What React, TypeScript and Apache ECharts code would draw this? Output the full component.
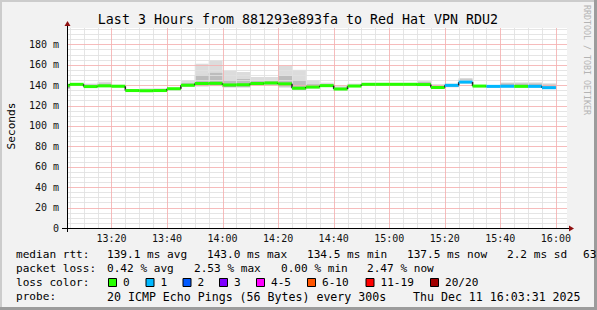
import React, { useEffect, useRef } from 'react';
import * as echarts from 'echarts';

const FONT = '"DejaVu Sans Mono", monospace';

// 5-minute slots (start times); the first one is the partial slot at the left edge
const slotStarts = ['13:04', '13:05', '13:10', '13:15', '13:20', '13:25', '13:30', '13:35', '13:40', '13:45', '13:50', '13:55',
  '14:00', '14:05', '14:10', '14:15', '14:20', '14:25', '14:30', '14:35', '14:40', '14:45', '14:50', '14:55',
  '15:00', '15:05', '15:10', '15:15', '15:20', '15:25', '15:30', '15:35', '15:40', '15:45', '15:50', '15:55'];
const slotEnd = '16:00';
const axisStart = '13:04';
const axisEnd = '16:04';

// median round trip (ms)
const medianRtt = [139.8, 140.8, 138.6, 139.3, 138.9, 134.7, 134.5, 134.7, 136.5, 139.9, 141.6, 141.8,
  140.2, 140.4, 141.6, 142.1, 141.3, 137.0, 138.1, 139.5, 136.2, 139.1, 140.8, 140.8,
  140.8, 140.8, 140.6, 137.7, 139.8, 143.0, 139.1, 138.8, 138.8, 138.8, 138.8, 137.5];
// lost pings (of 20)
const lossCount = [0, 0, 0, 0, 0, 0, 0, 0, 0, 0, 0, 0,
  0, 0, 0, 0, 0, 0, 0, 0, 0, 0, 0, 0,
  0, 0, 0, 0, 1, 1, 0, 1, 1, 0, 1, 1];
// smoke: lowest ping, lower quartile, upper quartile, highest ping (ms)
const smokeLow = [136.0, 139.5, 137.5, 138.0, 137.8, 134.0, 134.0, 134.0, 135.8, 138.5, 138.5, 139.0,
  137.5, 137.5, 139.5, 140.0, 137.5, 135.2, 136.8, 138.3, 135.2, 138.2, 140.0, 140.0,
  140.0, 140.0, 139.0, 136.5, 137.8, 141.5, 137.8, 137.2, 137.5, 137.5, 137.5, 136.2];
const smokeQ1 = [137.0, 140.0, 138.0, 138.6, 138.2, 134.2, 134.2, 134.2, 136.0, 139.0, 139.5, 140.0,
  138.5, 138.8, 140.5, 141.0, 139.0, 136.0, 137.3, 138.8, 135.6, 138.6, 140.3, 140.3,
  140.3, 140.3, 139.8, 137.0, 138.6, 142.2, 138.3, 138.0, 138.2, 138.2, 138.2, 136.8];
const smokeQ3 = [140.8, 141.2, 140.5, 141.5, 139.8, 135.2, 135.5, 135.8, 136.8, 142.0, 150.0, 152.0,
  145.0, 146.0, 144.0, 144.0, 149.0, 145.0, 141.0, 141.0, 137.5, 140.2, 141.6, 141.6,
  141.6, 141.6, 143.0, 139.5, 141.0, 145.5, 139.6, 139.6, 141.5, 141.5, 141.5, 140.5];
const smokeHigh = [141.0, 141.5, 141.5, 143.4, 140.5, 135.8, 136.8, 136.9, 137.2, 145.0, 161.0, 164.3,
  154.2, 152.9, 148.0, 148.0, 159.0, 155.0, 145.0, 142.4, 139.0, 141.5, 142.3, 142.3,
  142.3, 142.3, 144.2, 141.0, 141.5, 147.0, 140.0, 140.0, 142.7, 142.7, 142.7, 141.8];

const xTickLabels = ['13:20', '13:40', '14:00', '14:20', '14:40', '15:00', '15:20', '15:40', '16:00'];
const yTicks = [0, 20, 40, 60, 80, 100, 120, 140, 160, 180];
const yMax = 196;

const lossLabels = ['0', '1', '2', '3', '4-5', '6-10', '11-19', '20/20'];
const lossUpper = [0, 1, 2, 3, 5, 10, 19, 20];
const lossColors = ['#26ff00', '#00b8ff', '#0059ff', '#7e00ff', '#ff00ff', '#ff5500', '#ff0000', '#a10000'];

const titleText = 'Last 3 Hours from 881293e893fa to Red Hat VPN RDU2';
const rttStats = ['139.1 ms avg', '143.0 ms max', '134.5 ms min', '137.5 ms now', '2.2 ms sd', '63'];
const lossStats = ['0.42 % avg', '2.53 % max', '0.00 % min', '2.47 % now'];
const probeText = '20 ICMP Echo Pings (56 Bytes) every 300s';
const stampText = 'Thu Dec 11 16:03:31 2025';

const toMin = (s: string) => {
  const [h, m] = s.split(':').map(Number);
  return h * 60 + m;
};
const fmtMin = (v: number) => `${Math.floor(v / 60)}:${String(Math.round(v) % 60).padStart(2, '0')}`;
const X_MIN = toMin(axisStart);
const X_MAX = toMin(axisEnd);
const xTickMins = xTickLabels.map(toMin);

const lossColor = (n: number) => {
  for (let i = 0; i < lossUpper.length; i++) if (n <= lossUpper[i]) return lossColors[i];
  return lossColors[lossColors.length - 1];
};

const slotData = slotStarts.map((s, i) => [
  toMin(s),
  i + 1 < slotStarts.length ? toMin(slotStarts[i + 1]) : toMin(slotEnd),
  smokeLow[i], smokeQ1[i], medianRtt[i], smokeQ3[i], smokeHigh[i], lossCount[i],
  i > 0 ? medianRtt[i - 1] : medianRtt[i],
]);

const MAJOR = '#f5b0b0';
const MINOR = '#e0e0e0';

function buildOption(): any {
  const txt = (text: string, x: number, y: number, extra: any = {}) => ({
    type: 'text', x, y, z: 10,
    style: { text, fill: '#000', fontFamily: FONT, fontSize: 11.1, verticalAlign: 'middle', align: 'left', ...extra },
  });
  const rttX = [107, 207, 307, 407, 507, 583];
  const lossX = [107, 194, 281, 367];
  const boxX = [108, 145.5, 182.5, 219, 256, 307, 365.5, 430];
  const graphics: any[] = [
    // frame shading
    { type: 'rect', shape: { x: 0, y: 0, width: 597, height: 2 }, style: { fill: '#cccccc' }, z: 1 },
    { type: 'rect', shape: { x: 0, y: 0, width: 2, height: 310 }, style: { fill: '#cccccc' }, z: 1 },
    { type: 'rect', shape: { x: 594, y: 0, width: 3, height: 310 }, style: { fill: '#9c9c9c' }, z: 1 },
    { type: 'rect', shape: { x: 0, y: 307, width: 597, height: 3 }, style: { fill: '#9c9c9c' }, z: 1 },
    // axes lines & arrows
    { type: 'line', shape: { x1: 62, y1: 228.5, x2: 570, y2: 228.5 }, style: { stroke: '#000', lineWidth: 1 }, z: 5 },
    { type: 'line', shape: { x1: 67.5, y1: 232, x2: 67.5, y2: 25 }, style: { stroke: '#000', lineWidth: 1 }, z: 5 },
    { type: 'polygon', shape: { points: [[569, 225.5], [574, 228.5], [569, 231.5]] }, style: { fill: '#8f1010' }, z: 6 },
    { type: 'polygon', shape: { points: [[64.5, 26], [67.5, 21], [70.5, 26]] }, style: { fill: '#8f1010' }, z: 6 },
    txt(titleText, 298, 19.5, { fontSize: 13.3, align: 'center' }),
    {
      type: 'text', x: 11, y: 126, rotation: Math.PI / 2, z: 10,
      style: { text: 'Seconds', fill: '#000', fontFamily: FONT, fontSize: 11.1, align: 'center', verticalAlign: 'middle' },
    },
    {
      type: 'text', x: 587, y: 60, rotation: -Math.PI / 2, z: 10,
      style: { text: 'RRDTOOL / TOBI OETIKER', fill: '#b4b4b4', fontFamily: FONT, fontSize: 8.3, align: 'center', verticalAlign: 'middle' },
    },
    txt('median rtt:', 16, 254.5),
    ...rttStats.map((s, i) => txt(s, rttX[i], 254.5)),
    txt('packet loss:', 16, 268.5),
    ...lossStats.map((s, i) => txt(s, lossX[i], 268.5)),
    txt('loss color:', 16, 282.5),
    ...lossLabels.flatMap((l, i) => [
      { type: 'rect', z: 10, shape: { x: boxX[i] + 0.5, y: 278.5, width: 8, height: 8 }, style: { fill: lossColors[i], stroke: '#000', lineWidth: 1 } },
      txt(l, boxX[i] + 15, 282.5),
    ]),
    txt('probe:', 16, 296.5),
    txt(probeText, 107, 296.5, { fontSize: 11.6 }),
    txt(stampText, 413, 296.5, { fontSize: 11.6 }),
  ];

  return {
    animation: false,
    backgroundColor: '#f2f2f2',
    grid: { left: 67, top: 28, width: 500, height: 200, show: true, backgroundColor: '#ffffff', borderWidth: 0 },
    xAxis: {
      type: 'value', min: X_MIN, max: X_MAX, interval: 1,
      axisLine: { show: false }, axisTick: { show: false }, splitLine: { show: false },
      axisLabel: {
        margin: 5, color: '#111', fontFamily: FONT, fontSize: 10,
        showMinLabel: true, showMaxLabel: true,
        formatter: (v: number) => (xTickLabels.includes(fmtMin(v)) && Math.abs(v - Math.round(v)) < 1e-6 ? fmtMin(v) : ''),
      },
    },
    yAxis: {
      type: 'value', min: 0, max: yMax, interval: 20,
      axisLine: { show: false }, axisTick: { show: false }, splitLine: { show: false },
      axisLabel: {
        margin: 8, color: '#111', fontFamily: FONT, fontSize: 10,
        formatter: (v: number) => (yTicks.includes(v) ? (v === 0 ? '0' : `${v} m`) : ''),
      },
    },
    graphic: graphics,
    series: [
      {
        type: 'custom', name: 'smoke', z: 2, silent: true,
        data: slotData,
        renderItem: (params: any, api: any) => {
          const x0 = api.value(0), x1 = api.value(1);
          const band = (a: number, b: number, fill: string) => {
            const p0 = api.coord([x0, b]);
            const p1 = api.coord([x1, a]);
            return { type: 'rect', shape: { x: p0[0], y: p0[1], width: p1[0] - p0[0], height: p1[1] - p0[1] }, style: { fill } };
          };
          return {
            type: 'group',
            children: [
              band(api.value(2), api.value(6), '#dcdcdc'),
              band(api.value(3), api.value(5), '#bdbdbd'),
              band(api.value(3), api.value(4), '#9c9c9c'),
            ],
          };
        },
      },
      {
        type: 'custom', name: 'grid', z: 3, silent: true,
        data: [[X_MIN, 0]],
        renderItem: (params: any, api: any) => {
          const children: any[] = [];
          const top = api.coord([X_MIN, yMax])[1];
          const bottom = api.coord([X_MIN, 0])[1];
          const left = api.coord([X_MIN, 0])[0];
          const right = api.coord([X_MAX, 0])[0];
          const vl = (m: number, color: string) => {
            const x = Math.round(api.coord([m, 0])[0]) + 0.5;
            children.push({ type: 'line', shape: { x1: x, y1: top, x2: x, y2: bottom }, style: { stroke: color, lineWidth: 1, opacity: 0.85 } });
          };
          const hl = (v: number, color: string) => {
            const y = Math.round(api.coord([X_MIN, v])[1]) + 0.5;
            children.push({ type: 'line', shape: { x1: left, y1: y, x2: right, y2: y }, style: { stroke: color, lineWidth: 1, opacity: 0.85 } });
          };
          for (let m = Math.ceil(X_MIN / 5) * 5; m <= X_MAX; m += 5) if (!xTickMins.includes(m)) vl(m, MINOR);
          for (let v = 5; v < yMax; v += 5) if (!yTicks.includes(v)) hl(v, MINOR);
          xTickMins.forEach((m) => vl(m, MAJOR));
          yTicks.filter((v) => v > 0).forEach((v) => hl(v, MAJOR));
          return { type: 'group', children };
        },
      },
      {
        type: 'custom', name: 'median', z: 4, silent: true,
        data: slotData,
        renderItem: (params: any, api: any) => {
          const x0 = api.value(0), x1 = api.value(1);
          const med = api.value(4);
          const prev = api.value(8);
          const p0 = api.coord([x0, med]);
          const p1 = api.coord([x1, med]);
          const pp = api.coord([x0, prev]);
          const children: any[] = [];
          if (Math.abs(prev - med) > 0.05) {
            children.push({ type: 'line', shape: { x1: p0[0], y1: pp[1], x2: p0[0], y2: p0[1] }, style: { stroke: '#222', lineWidth: 1.5 } });
          }
          children.push({
            type: 'rect', shape: { x: p0[0], y: p0[1] - 1.5, width: p1[0] - p0[0], height: 3 },
            style: { fill: lossColor(api.value(7)) },
          });
          return { type: 'group', children };
        },
      },
    ],
  };
}

export default function App() {
  const ref = useRef<HTMLDivElement>(null);
  useEffect(() => {
    document.body.style.margin = '0';
    const chart = echarts.init(ref.current as HTMLDivElement, null, { renderer: 'svg' });
    chart.setOption(buildOption());
    return () => chart.dispose();
  }, []);
  return <div ref={ref} style={{ width: 597, height: 310, position: 'absolute', left: 0, top: 0 }} />;
}
